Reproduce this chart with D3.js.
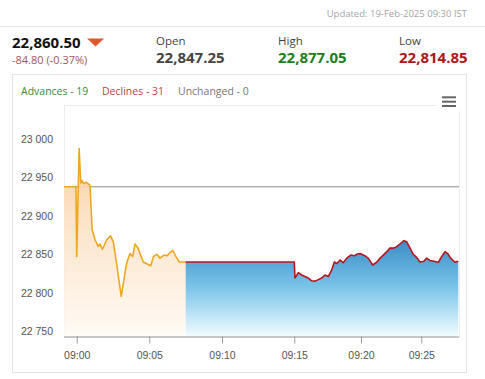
<!DOCTYPE html>
<html><head><meta charset="utf-8">
<script src="https://cdn.jsdelivr.net/npm/d3@7"></script>
<style>
html,body{margin:0;padding:0;background:#fff;}
svg{display:block;}
</style></head>
<body>
<svg id="c" width="485" height="379"></svg>
<script>
// ---------- data ----------
const updatedText = "Updated: 19-Feb-2025 09:30 IST";
const lastPrice = "22,860.50";
const change = "-84.80 (-0.37%)";
const statLabels = ["Open", "High", "Low"];
const statValues = ["22,847.25", "22,877.05", "22,814.85"];
const breadthLabels = ["Advances - 19", "Declines - 31", "Unchanged - 0"];

const yTicks = [22750, 22800, 22850, 22900, 22950, 23000];
const xTicks = ["09:00", "09:05", "09:10", "09:15", "09:20", "09:25"];
const refValue = 22938;

// pre-open (orange) series
const preTimes = ["08:59:08","08:59:57","09:00:00","09:00:10","09:00:17","09:00:22","09:00:30","09:00:38","09:00:47","09:00:55","09:01:04","09:01:16","09:01:29","09:01:36","09:01:46","09:02:04","09:02:20","09:02:31","09:02:45","09:03:04","09:03:26","09:03:40","09:03:51","09:04:01","09:04:14","09:04:24","09:04:35","09:05:06","09:05:17","09:05:31","09:05:44","09:06:01","09:06:12","09:06:25","09:06:37","09:06:50","09:07:04","09:07:20","09:07:30"];
const preValues = [22938,22938,22847,22988,22943,22946,22942,22944,22942,22940,22882,22869,22860,22863.5,22856.6,22869,22874,22866.5,22838,22795,22838,22851,22847,22863.5,22858,22849,22840,22835,22847,22850,22845,22849,22848,22852,22855,22847,22840,22840,22840];

// session (blue/red) series
const sessTimes = ["09:07:30","09:15:00","09:15:03","09:15:18","09:15:33","09:15:48","09:16:03","09:16:18","09:16:33","09:16:48","09:17:03","09:17:18","09:17:33","09:17:48","09:18:00","09:18:11","09:18:26","09:18:40","09:18:56","09:19:14","09:19:29","09:19:43","09:19:56","09:20:11","09:20:20","09:20:36","09:20:58","09:21:18","09:21:35","09:21:51","09:22:08","09:22:24","09:22:41","09:22:58","09:23:18","09:23:34","09:23:47","09:24:04","09:24:20","09:24:37","09:24:53","09:25:13","09:25:27","09:25:43","09:26:03","09:26:25","09:26:41","09:26:58","09:27:11","09:27:26","09:27:48","09:28:04"];
const sessValues = [22840,22840,22819,22826,22823,22821,22819,22815.5,22815,22817,22819,22823,22821,22829.6,22840,22838,22842.6,22839,22845,22849,22848,22850.4,22851,22849,22848,22845,22836,22839.6,22845,22849,22853.4,22858,22858,22860,22864.4,22867.8,22866.5,22858,22850,22846,22840,22841,22845,22842,22841,22839.6,22847,22853.4,22851,22845,22839.6,22841];

// ---------- layout ----------
const parseT = d3.timeParse("%H:%M:%S");
const parseHM = d3.timeParse("%H:%M");
const plot = {left: 64, right: 459, top: 105, bottom: 336.5};
const tickPx = [76.7, 149.3, 222, 294.3, 361, 421.3];

const svg = d3.select("#c");
const defs = svg.append("defs");

const x = d3.scaleTime().domain(xTicks.map(parseHM)).range(tickPx);
const y = d3.scaleLinear().domain([22742.8, 23044.7]).range([plot.bottom, plot.top]);

const pre = d3.zip(preTimes, preValues).map(([t, v]) => ({t: parseT(t), v}));
const sess = d3.zip(sessTimes, sessValues).map(([t, v]) => ({t: parseT(t), v}));

// ---------- card / header ----------
svg.append("line").attr("x1", 0).attr("x2", 485).attr("y1", 26.5).attr("y2", 26.5).attr("stroke", "#e6e6e6");
svg.append("text").attr("x", 467).attr("y", 16.5).attr("text-anchor", "end")
  .attr("font-family", "Open Sans, sans-serif").attr("font-size", 9.5).attr("fill", "#a5a5a5").text(updatedText);

svg.append("rect").attr("x", 12.5).attr("y", 74.5).attr("width", 454).attr("height", 298)
  .attr("fill", "none").attr("stroke", "#e3e3e3");

svg.append("text").attr("x", 12).attr("y", 47.5).attr("font-family", "Open Sans, sans-serif")
  .attr("font-weight", 700).attr("font-size", 15).attr("fill", "#111").text(lastPrice);
svg.append("path").attr("d", "M87,38.5 L104,38.5 L95.5,46.5 Z").attr("fill", "#e4572e");
svg.append("text").attr("x", 12).attr("y", 64).attr("font-family", "Open Sans, sans-serif")
  .attr("font-size", 11).attr("fill", "#a35560").text(change);

const statX = [156, 278, 399];
const statColors = ["#444444", "#1e7d1e", "#b01418"];
statLabels.forEach((l, i) => {
  svg.append("text").attr("x", statX[i]).attr("y", 44.5).attr("font-family", "Open Sans, sans-serif")
    .attr("font-size", 11.5).attr("fill", "#444").text(l);
  svg.append("text").attr("x", statX[i]).attr("y", 62.5).attr("font-family", "Open Sans, sans-serif")
    .attr("font-weight", 700).attr("font-size", 15).attr("fill", statColors[i]).text(statValues[i]);
});

const breadthX = [21, 102, 178];
const breadthColors = ["#3b8a3b", "#b8434b", "#777777"];
breadthLabels.forEach((l, i) => {
  svg.append("text").attr("x", breadthX[i]).attr("y", 95).attr("font-family", "Open Sans, sans-serif")
    .attr("font-size", 10.5).attr("fill", breadthColors[i]).text(l);
});

// ---------- plot frame ----------
svg.append("rect").attr("x", plot.left + 0.5).attr("y", plot.top + 0.5)
  .attr("width", plot.right - plot.left).attr("height", plot.bottom - plot.top)
  .attr("fill", "#fff").attr("stroke", "#ececec");

// hamburger menu
svg.append("rect").attr("x", 437).attr("y", 92).attr("width", 24).attr("height", 19).attr("fill", "#fff");
[97.3, 101.7, 106].forEach(yy => {
  svg.append("line").attr("x1", 442).attr("x2", 456).attr("y1", yy).attr("y2", yy)
    .attr("stroke", "#666").attr("stroke-width", 2);
});

// gradients
const gO = defs.append("linearGradient").attr("id", "gO").attr("gradientUnits", "userSpaceOnUse")
  .attr("x1", 0).attr("x2", 0).attr("y1", y(22990)).attr("y2", plot.bottom);
gO.append("stop").attr("offset", 0).attr("stop-color", "#f8c88e");
gO.append("stop").attr("offset", 0.35).attr("stop-color", "#fbdfc0");
gO.append("stop").attr("offset", 1).attr("stop-color", "#fffaf4");

const gB = defs.append("linearGradient").attr("id", "gB").attr("gradientUnits", "userSpaceOnUse")
  .attr("x1", 0).attr("x2", 0).attr("y1", y(22868)).attr("y2", plot.bottom);
gB.append("stop").attr("offset", 0).attr("stop-color", "#3a8cc6");
gB.append("stop").attr("offset", 0.5).attr("stop-color", "#7cc6ea");
gB.append("stop").attr("offset", 1).attr("stop-color", "#f2fcff");

defs.append("clipPath").attr("id", "clip").append("rect")
  .attr("x", plot.left).attr("y", plot.top).attr("width", plot.right - plot.left).attr("height", plot.bottom - plot.top);

const g = svg.append("g").attr("clip-path", "url(#clip)");

// reference line
g.append("line").attr("x1", plot.left).attr("x2", plot.right)
  .attr("y1", y(refValue)).attr("y2", y(refValue)).attr("stroke", "#888").attr("stroke-width", 1);

const area = d3.area().x(d => x(d.t)).y0(plot.bottom).y1(d => y(d.v));
const line = d3.line().x(d => x(d.t)).y(d => y(d.v));

g.append("path").datum(pre).attr("d", area).attr("fill", "url(#gO)").attr("fill-opacity", 0.9);
g.append("path").datum(sess).attr("d", area).attr("fill", "url(#gB)");
g.append("path").datum(pre).attr("d", line).attr("fill", "none").attr("stroke", "#eea71e").attr("stroke-width", 1.6).attr("stroke-linejoin", "round");
g.append("path").datum(sess).attr("d", line).attr("fill", "none").attr("stroke", "#b8141c").attr("stroke-width", 1.6).attr("stroke-linejoin", "round");

// ---------- axes ----------
const xAxis = d3.axisBottom(x).tickValues(xTicks.map(parseHM)).tickFormat(d3.timeFormat("%H:%M")).tickSize(7).tickSizeOuter(0);
const xa = svg.append("g").attr("transform", `translate(0,${plot.bottom})`).call(xAxis);
xa.select(".domain").attr("stroke", "#999").attr("d", `M${plot.left},0.5H${plot.right}`);
xa.selectAll(".tick line").attr("stroke", "#999");
xa.selectAll(".tick text").attr("font-family", "Liberation Sans, Arial, sans-serif").attr("font-size", 10.5)
  .attr("fill", "#555").attr("dy", "1.15em");

const yAxis = d3.axisLeft(y).tickValues(yTicks).tickFormat(d => d3.format(",")(d).replace(",", " ")).tickSize(0);
const ya = svg.append("g").attr("transform", `translate(${plot.left - 11},0)`).call(yAxis);
ya.select(".domain").remove();
ya.selectAll(".tick text").attr("font-family", "Liberation Sans, Arial, sans-serif").attr("font-size", 10.5)
  .attr("fill", "#555").attr("x", 0);
</script>
</body></html>
